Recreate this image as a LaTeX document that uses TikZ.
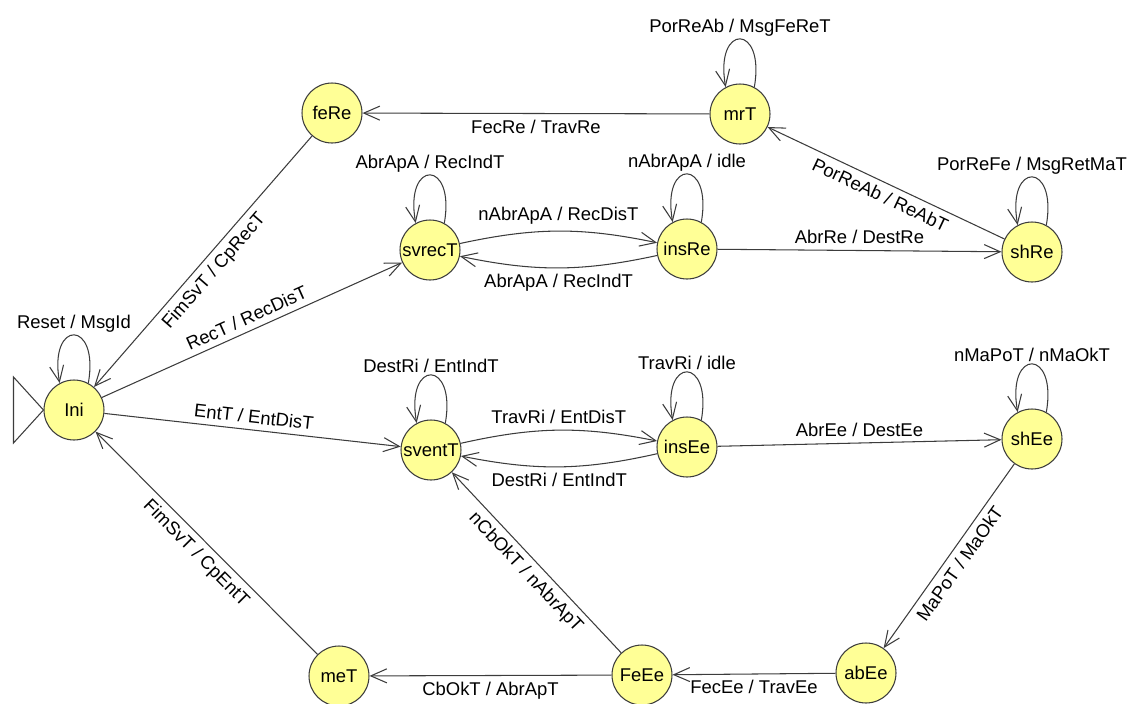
\documentclass[tikz,border=0pt]{standalone}
\usepackage{fontspec}
\setmainfont{Liberation Sans}
\usetikzlibrary{arrows.meta}
\definecolor{stfill}{RGB}{255,255,150}
\definecolor{lncol}{RGB}{60,60,60}

\begin{document}
\begin{tikzpicture}[x=.02cm, y=-.02cm, font=\fontsize{10.5}{12}\selectfont,
  stnode/.style={circle, draw=lncol, fill=stfill, line width=.6pt, minimum size=1.2cm, inner sep=0},
  >={Straight Barb[length=3.2mm, width=2.8mm]},
  every path/.style={line width=.6pt},
  selfloop/.style={out=80, in=100, min distance=13mm, looseness=1}]
\useasboundingbox (0,0) rectangle (1134,704);
% states
\node[stnode] (ini)    at (74,410)  {Ini};
\node[stnode] (fere)   at (332,113) {feRe};
\node[stnode] (mrt)    at (740,114) {mrT};
\node[stnode] (svrect) at (430,250) {svrecT};
\node[stnode] (insre)  at (687,249) {insRe};
\node[stnode] (shre)   at (1032,252) {shRe};
\node[stnode] (svent)  at (431,450) {sventT};
\node[stnode] (insee)  at (687,447) {insEe};
\node[stnode] (shee)   at (1032,439) {shEe};
\node[stnode] (met)    at (339,676) {meT};
\node[stnode] (feee)   at (642,675) {FeEe};
\node[stnode] (abee)   at (866,673) {abEe};
% initial state
\draw[draw=lncol, fill=white] (ini.west) -- ++(-30,-33) -- ++(0,66) -- cycle;
% self loops
\draw[lncol, ->] (ini.62) to[selfloop] node[above, inner sep=1pt, text=black]{Reset / MsgId} (ini.118);
\draw[lncol, ->] (svrect.62) to[selfloop] node[above, inner sep=1pt, text=black]{AbrApA / RecIndT} (svrect.118);
\draw[lncol, ->] (mrt.62) to[selfloop] node[above, inner sep=1pt, text=black]{PorReAb / MsgFeReT} (mrt.118);
\draw[lncol, ->] (insre.62) to[selfloop] node[above, inner sep=1pt, text=black]{nAbrApA / idle} (insre.118);
\draw[lncol, ->] (shre.62) to[selfloop] node[above, inner sep=1pt, text=black]{PorReFe / MsgRetMaT} (shre.118);
\draw[lncol, ->] (svent.62) to[selfloop] node[above, inner sep=1pt, text=black]{DestRi / EntIndT} (svent.118);
\draw[lncol, ->] (insee.62) to[selfloop] node[above, inner sep=1pt, text=black]{TravRi / idle} (insee.118);
\draw[lncol, ->] (shee.62) to[selfloop] node[above, inner sep=1pt, text=black]{nMaPoT / nMaOkT} (shee.118);
% transitions
\draw[lncol, ->] (mrt) -- node[below, text=black]{FecRe / TravRe} (fere);
\draw[lncol, ->] (shre) -- node[sloped, below, text=black]{PorReAb / ReAbT} (mrt);
\draw[lncol, ->] (insre) -- node[above, text=black]{AbrRe / DestRe} (shre);
\draw[lncol, ->] (svrect) to[bend left=12] node[above, text=black]{nAbrApA / RecDisT} (insre);
\draw[lncol, ->] (insre) to[bend left=12] node[below, text=black]{AbrApA / RecIndT} (svrect);
\draw[lncol, ->] (fere) -- node[sloped, below, text=black]{FimSvT / CpRecT} (ini);
\draw[lncol, ->] (ini) -- node[sloped, above, text=black]{RecT / RecDisT} (svrect);
\draw[lncol, ->] (ini) -- node[sloped, above, text=black]{EntT / EntDisT} (svent);
\draw[lncol, ->] (svent) to[bend left=12] node[above, text=black]{TravRi / EntDisT} (insee);
\draw[lncol, ->] (insee) to[bend left=12] node[below, text=black]{DestRi / EntIndT} (svent);
\draw[lncol, ->] (insee) -- node[above, text=black]{AbrEe / DestEe} (shee);
\draw[lncol, ->] (shee) -- node[sloped, below, text=black]{MaPoT / MaOkT} (abee);
\draw[lncol, ->] (abee) -- node[below, text=black]{FecEe / TravEe} (feee);
\draw[lncol, ->] (feee) -- node[below, text=black]{CbOkT / AbrApT} (met);
\draw[lncol, ->] (feee) -- node[sloped, below, text=black]{nCbOkT / nAbrApT} (svent);
\draw[lncol, ->] (met) -- node[sloped, below, text=black]{FimSvT / CpEntT} (ini);
\end{tikzpicture}
\end{document}
